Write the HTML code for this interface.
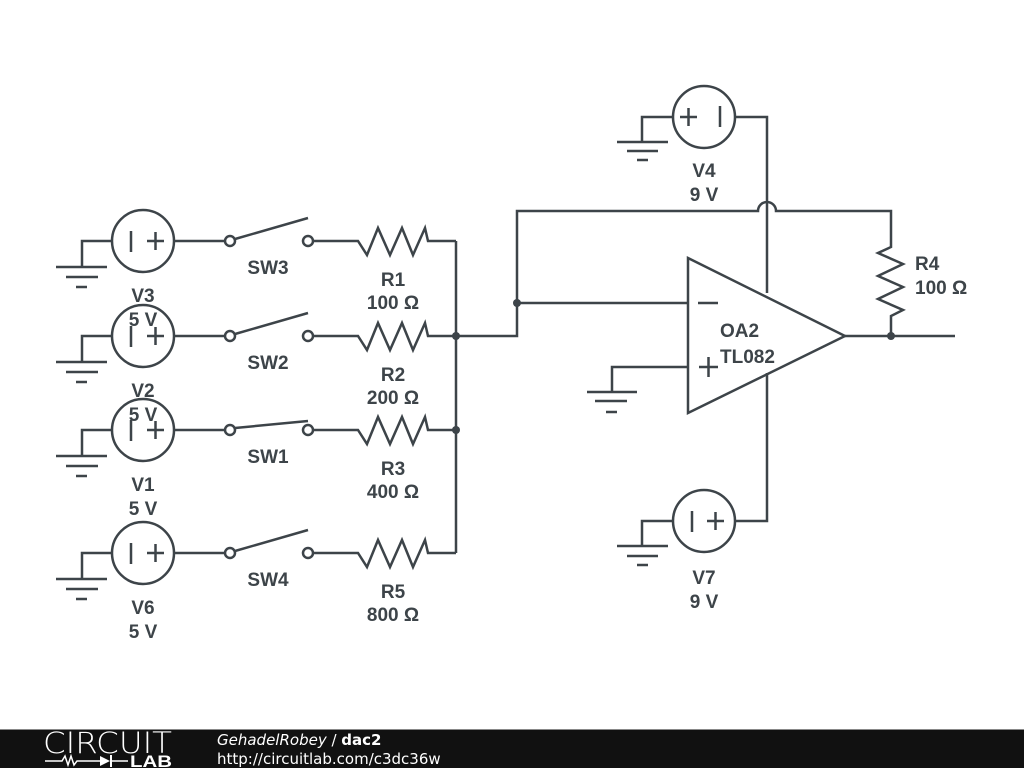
<!DOCTYPE html>
<html><head><meta charset="utf-8"><style>
html,body{margin:0;padding:0;background:#fff;}
svg{display:block}
.l{font-family:"Liberation Sans",sans-serif;font-weight:bold;font-size:19px;fill:#3d4449;text-anchor:middle}
</style></head><body>
<svg width="1024" height="768" viewBox="0 0 1024 768" xmlns="http://www.w3.org/2000/svg">
<defs>
<g id="row" fill="none" stroke="#3d4449" stroke-width="2.5">
<path d="M112,0 H82 V26 M56,26 H107 M66,36 H98 M76,46 H87"/>
<circle cx="143" cy="0" r="31"/>
<path d="M131,-10 V11 M147,0 H164 M155.5,-9 V9"/>
<path d="M174,0 H225"/>
<circle cx="230" cy="0" r="5"/>
<circle cx="308" cy="0" r="5"/>
<path d="M313,0 H358 L367,14 L378,-13 L390,14 L402,-13 L413,14 L425,-13 L428,0 H456"/>
</g>
</defs>
<g fill="none" stroke="#3d4449" stroke-width="2.5">
<use href="#row" x="0" y="241"/>
<use href="#row" x="0" y="336"/>
<use href="#row" x="0" y="430"/>
<use href="#row" x="0" y="553"/>
<path d="M235,239 L308,218 M235,334 L308,313 M235,428 L308,421 M235,551 L308,530"/>
<path d="M456,241 V553 M456,336 H517 V211 H758 A9,9 0 0 1 776,211 H891 V247 L878,253 L903,264 L878,276 L903,287 L878,299 L903,310 L891,316 V336 M845,336 H955"/>
<path d="M517,303 H688"/>
<path d="M688,258 L845,336 L688,413 Z"/>
<path d="M698,303 H718 M699,367 H718 M708.5,357 V377"/>
<path d="M688,367 H612 V392 M587,392 H637 M595,401 H627 M606,412 H617"/>
<circle cx="704" cy="117" r="31"/>
<path d="M680,117 H697 M688.5,108 V126 M720,106 V127"/>
<path d="M673,117 H642 V142 M617,142 H668 M627,151 H658 M637,160 H648"/>
<path d="M735,117 H767 V293"/>
<circle cx="704" cy="521" r="31"/>
<path d="M692,511 V532 M707,521 H724 M715.5,512 V530"/>
<path d="M673,521 H642 V546 M617,546 H668 M627,556 H658 M637,565 H648"/>
<path d="M735,521 H767 V373"/>
</g>
<g fill="#3d4449"><circle cx="456" cy="336" r="4"/><circle cx="456" cy="430" r="4"/><circle cx="517" cy="303" r="4"/><circle cx="891" cy="336" r="4"/></g>
<g class="l">
<text x="268" y="274">SW3</text><text x="393" y="286">R1</text><text x="393" y="309">100 Ω</text><text x="143" y="302">V3</text><text x="143" y="326">5 V</text>
<text x="268" y="369">SW2</text><text x="393" y="381">R2</text><text x="393" y="404">200 Ω</text><text x="143" y="397">V2</text><text x="143" y="421">5 V</text>
<text x="268" y="463">SW1</text><text x="393" y="475">R3</text><text x="393" y="498">400 Ω</text><text x="143" y="491">V1</text><text x="143" y="515">5 V</text>
<text x="268" y="586">SW4</text><text x="393" y="598">R5</text><text x="393" y="621">800 Ω</text><text x="143" y="614">V6</text><text x="143" y="638">5 V</text>
<text x="704" y="177">V4</text><text x="704" y="201">9 V</text>
<text x="704" y="584">V7</text><text x="704" y="608">9 V</text>
<text x="915" y="270" style="text-anchor:start">R4</text><text x="915" y="294" style="text-anchor:start">100 Ω</text>
<text x="720" y="337" style="text-anchor:start">OA2</text><text x="720" y="363" style="text-anchor:start">TL082</text>
</g>
<rect x="0" y="729" width="1024" height="39" fill="#111"/>
<rect x="0" y="729" width="1024" height="1" fill="#888"/>
<text x="43" y="753" textLength="129" lengthAdjust="spacingAndGlyphs" style="font-family:'DejaVu Sans',sans-serif;font-size:29px;font-weight:200;fill:#fff">CIRCUIT</text>
<path d="M45,761 H62 L65,756 L68,765 L71,756 L74,765 L77,761 H100 M112,761 H128" stroke="#fff" stroke-width="1.5" fill="none"/>
<path d="M100,756 L100,766 L110,761 Z" fill="#fff"/><path d="M111,755 V767" stroke="#fff" stroke-width="2"/>
<text x="130" y="767" textLength="42" lengthAdjust="spacingAndGlyphs" style="font-family:'Liberation Sans',sans-serif;font-size:17px;font-weight:bold;fill:#fff">LAB</text>
<text x="217" y="745" style="font-family:'DejaVu Sans',sans-serif;font-size:15px;fill:#fff"><tspan font-style="italic">GehadelRobey</tspan> / <tspan font-weight="bold">dac2</tspan></text>
<text x="217" y="764" style="font-family:'DejaVu Sans',sans-serif;font-size:15px;fill:#fff">http://circuitlab.com/c3dc36w</text>
</svg>
</body></html>
